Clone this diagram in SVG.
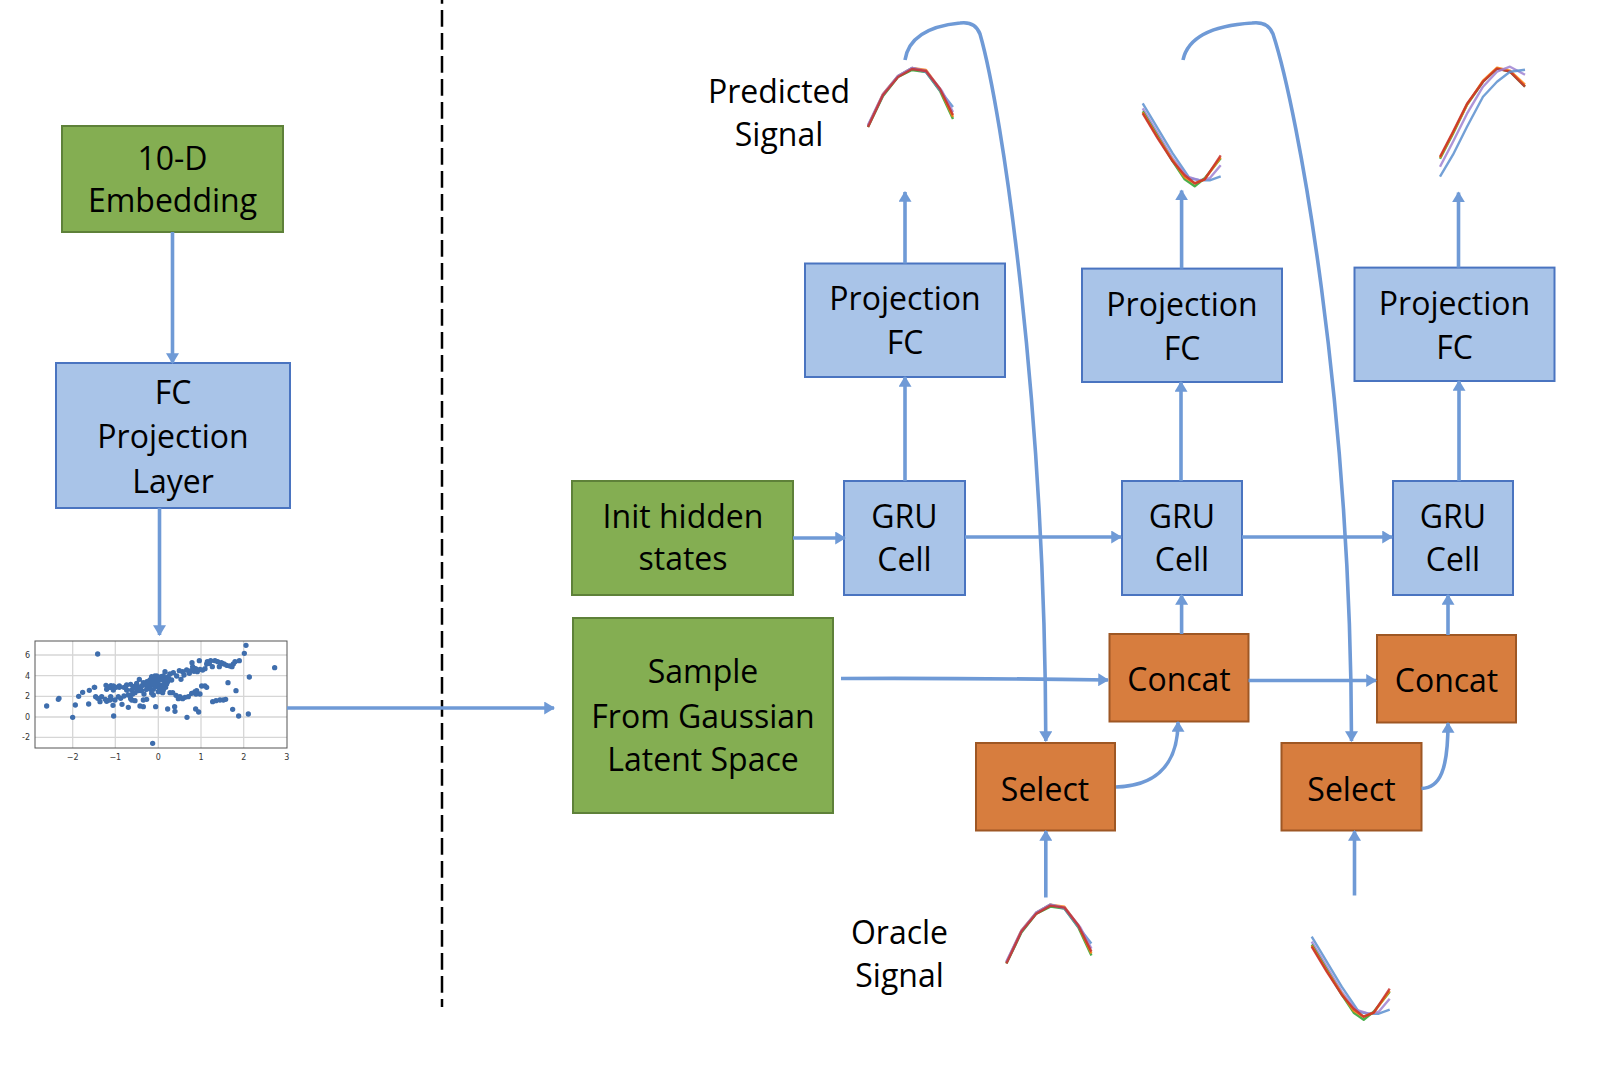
<svg xmlns="http://www.w3.org/2000/svg" width="1614" height="1066" viewBox="0 0 1614 1066">
<style>
.t{font-family:"Open Sans","Noto Sans","Liberation Sans",sans-serif;font-size:32px;fill:#000;text-anchor:middle}
.green{fill:#84AE52;stroke:#5E8139;stroke-width:2}
.blue{fill:#A9C4E8;stroke:#4A74C0;stroke-width:2}
.orange{fill:#D77D3E;stroke:#9E5724;stroke-width:2}
.c{fill:none;stroke:#6F9AD6;stroke-width:3.6;marker-end:url(#ah)}
.w{fill:none;stroke-width:2.4;stroke-linejoin:round;opacity:0.85}
.tk{font-family:"DejaVu Sans","Liberation Sans",sans-serif;font-size:8px;fill:#333}
</style>
<defs>
<marker id="ah" viewBox="0 0 10 12" refX="9" refY="6" markerWidth="11" markerHeight="13" markerUnits="userSpaceOnUse" orient="auto">
<path d="M0,0 L10,6 L0,12 z" fill="#6F9AD6"/>
</marker>
<g id="waveA">
<polyline class="w" stroke="#2ca02c" points="0,0 15,-31 30,-50 44,-57 58,-55 72,-36 85,-8"/>
<polyline class="w" stroke="#ff7f0e" points="0,-1 15,-33 30,-51 44,-59 58,-57 72,-38 85,-10"/>
<polyline class="w" stroke="#5b8fcf" points="0,-1 15,-32 30,-51 44,-59 58,-55 74,-34 85,-20"/>
<polyline class="w" stroke="#9f82d2" points="0,-2 15,-33 30,-51 44,-59 58,-56 74,-36 85,-15"/>
<polyline class="w" stroke="#c8302c" points="0,0 15,-32 30,-50 44,-58 58,-56 72,-38 85,-12"/>
</g>
<g id="waveB">
<polyline class="w" stroke="#5b8fcf" points="0,0 15,25 30,50 47,75 57,77 67,77 78,73"/>
<polyline class="w" stroke="#9f82d2" points="0,5 15,30 30,55 44,73 57,77 67,75 78,62"/>
<polyline class="w" stroke="#2ca02c" points="0,8 15,33 30,58 42,76 52,83 62,75 78,55"/>
<polyline class="w" stroke="#ff7f0e" points="0,9 15,34 30,57 42,74 52,80 62,76 78,54"/>
<polyline class="w" stroke="#c8302c" points="0,10 15,35 30,58 42,72 52,80 62,76 78,52"/>
</g>
</defs>
<rect width="1614" height="1066" fill="#fff"/>

<line x1="442" y1="-13" x2="442" y2="1007" stroke="#000" stroke-width="2.5" stroke-dasharray="16.7 6.3"/>

<g id="embedding">
<rect class="green" x="62" y="126" width="221" height="106"/>
<text class="t" x="172.5" y="170">10-D</text>
<text class="t" x="172.5" y="212">Embedding</text>
</g>
<g id="fc-projection-layer">
<rect class="blue" x="56" y="363" width="234" height="145"/>
<text class="t" x="173" y="404">FC</text>
<text class="t" x="173" y="448">Projection</text>
<text class="t" x="173" y="493">Layer</text>
</g>

<g id="scatter">
<g stroke="#d6d6d6" stroke-width="1.3">
<line x1="72.7" y1="641" x2="72.7" y2="748"/>
<line x1="115.3" y1="641" x2="115.3" y2="748"/>
<line x1="158.3" y1="641" x2="158.3" y2="748"/>
<line x1="201" y1="641" x2="201" y2="748"/>
<line x1="243.7" y1="641" x2="243.7" y2="748"/>
<line x1="35" y1="655" x2="287" y2="655"/>
<line x1="35" y1="675.7" x2="287" y2="675.7"/>
<line x1="35" y1="696.3" x2="287" y2="696.3"/>
<line x1="35" y1="717" x2="287" y2="717"/>
<line x1="35" y1="737.3" x2="287" y2="737.3"/>
</g>
<rect x="35" y="641" width="252" height="107" fill="none" stroke="#555" stroke-width="1"/>
<g transform="translate(0,600) scale(0.33333)">
<path fill="none" stroke="#3F6EAD" stroke-width="16" stroke-linecap="round" d="M293 162h0M140 318h0M175 298h0M177 295h0M218 352h0M226 315h0M236 289h0M248 277h0M268 271h0M284 262h0M266 312h0M341 348h0M458 430h0M738 136h0M733 160h0M824 203h0M748 231h0M684 248h0M708 272h0M698 328h0M716 348h0M745 342h0M561 352h0M596 336h0M587 327h0M524 320h0M525 334h0M503 327h0M467 320h0M430 320h0M420 318h0M385 322h0M366 313h0M339 316h0M320 304h0M300 305h0M293 295h0M287 290h0M305 290h0M316 298h0M330 300h0M332 290h0M283 262h0M318 256h0M333 257h0M320 268h0M340 270h0M358 258h0M372 262h0M380 255h0M392 253h0M400 260h0M395 270h0M410 250h0M418 238h0M420 262h0M430 248h0M436 255h0M441 245h0M450 240h0M455 230h0M460 234h0M465 228h0M470 236h0M477 240h0M483 230h0M488 240h0M490 228h0M495 215h0M500 238h0M505 230h0M510 222h0M515 240h0M520 218h0M530 228h0M538 212h0M543 238h0M548 215h0M552 225h0M560 210h0M568 220h0M573 212h0M578 200h0M585 210h0M592 215h0M598 182h0M600 208h0M608 210h0M615 206h0M622 185h0M632 182h0M637 200h0M645 182h0M653 185h0M664 188h0M672 192h0M680 196h0M690 198h0M700 192h0M705 185h0M718 182h0M576 188h0M587 206h0M582 214h0M620 192h0M628 190h0M658 200h0M696 200h0M345 300h0M355 290h0M362 295h0M372 288h0M385 285h0M392 296h0M405 278h0M414 272h0M425 272h0M432 282h0M440 268h0M448 262h0M455 272h0M460 268h0M470 260h0M478 255h0M483 265h0M490 270h0M497 262h0M500 252h0M510 278h0M518 278h0M528 286h0M535 296h0M540 290h0M548 296h0M555 292h0M565 290h0M575 280h0M585 275h0M590 272h0M605 258h0M615 258h0M620 262h0M430 300h0M440 298h0M405 302h0M395 300h0M455 280h0M460 285h0M638 305h0M648 302h0M660 300h0M670 300h0M677 298h0M600 282h0M588 282h0M450 250h0M456 243h0M462 255h0M467 248h0M473 246h0M478 263h0M485 258h0M493 250h0M503 245h0M482 268h0M475 275h0M488 278h0M492 260h0M358 262h0M348 262h0M330 262h0M340 258h0M470 228h0M462 240h0M445 255h0M425 258h0M410 265h0M398 282h0M380 270h0"/>
</g>
<text class="tk" x="30" y="657.8" text-anchor="end">6</text>
<text class="tk" x="30" y="678.5" text-anchor="end">4</text>
<text class="tk" x="30" y="699.1" text-anchor="end">2</text>
<text class="tk" x="30" y="719.8" text-anchor="end">0</text>
<text class="tk" x="30" y="740.1" text-anchor="end">-2</text>
<text class="tk" x="72.7" y="760" text-anchor="middle">−2</text>
<text class="tk" x="115.3" y="760" text-anchor="middle">−1</text>
<text class="tk" x="158.3" y="760" text-anchor="middle">0</text>
<text class="tk" x="201" y="760" text-anchor="middle">1</text>
<text class="tk" x="243.7" y="760" text-anchor="middle">2</text>
<text class="tk" x="286.7" y="760" text-anchor="middle">3</text>
</g>

<g id="init-hidden-states">
<rect class="green" x="572" y="481" width="221" height="114"/>
<text class="t" x="683" y="528">Init hidden</text>
<text class="t" x="683" y="570">states</text>
</g>
<g id="sample-gaussian">
<rect class="green" x="573" y="618" width="260" height="195"/>
<text class="t" x="703" y="683">Sample</text>
<text class="t" x="703" y="728">From Gaussian</text>
<text class="t" x="703" y="771">Latent Space</text>
</g>

<g id="gru1">
<rect class="blue" x="844" y="481" width="121" height="114"/>
<text class="t" x="904.5" y="528">GRU</text>
<text class="t" x="904.5" y="571">Cell</text>
</g>
<g id="gru2">
<rect class="blue" x="1122" y="481" width="120" height="114"/>
<text class="t" x="1182" y="528">GRU</text>
<text class="t" x="1182" y="571">Cell</text>
</g>
<g id="gru3">
<rect class="blue" x="1393" y="481" width="120" height="114"/>
<text class="t" x="1453" y="528">GRU</text>
<text class="t" x="1453" y="571">Cell</text>
</g>

<g id="proj1">
<rect class="blue" x="805" y="263.5" width="200" height="113.5"/>
<text class="t" x="905" y="310">Projection</text>
<text class="t" x="905" y="354">FC</text>
</g>
<g id="proj2">
<rect class="blue" x="1082" y="268.6" width="200" height="113.4"/>
<text class="t" x="1182" y="315.5">Projection</text>
<text class="t" x="1182" y="359.5">FC</text>
</g>
<g id="proj3">
<rect class="blue" x="1354.5" y="267.6" width="200" height="113.4"/>
<text class="t" x="1454.5" y="314.5">Projection</text>
<text class="t" x="1454.5" y="358.5">FC</text>
</g>

<g id="concat1">
<rect class="orange" x="1109.5" y="634" width="139" height="87.5"/>
<text class="t" x="1179" y="691">Concat</text>
</g>
<g id="concat2">
<rect class="orange" x="1377" y="635" width="139" height="87.5"/>
<text class="t" x="1446.5" y="691.5">Concat</text>
</g>
<g id="select1">
<rect class="orange" x="976" y="743" width="139" height="87.5"/>
<text class="t" x="1045" y="800.5">Select</text>
</g>
<g id="select2">
<rect class="orange" x="1281.5" y="743" width="140" height="87.5"/>
<text class="t" x="1351.5" y="800.5">Select</text>
</g>

<g id="predicted-signal">
<text class="t" x="779" y="102.5">Predicted</text>
<text class="t" x="779" y="146">Signal</text>
<use href="#waveA" transform="translate(868,127)"/>
<use href="#waveB" transform="translate(1142.7,103.3)"/>
<g transform="translate(1440,176.7)">
<polyline class="w" stroke="#2ca02c" points="0,-18 13,-43 27,-72 43,-95 57,-108 70,-105 85,-90"/>
<polyline class="w" stroke="#ff7f0e" points="0,-19 13,-44 27,-72 43,-96 57,-109 70,-106 85,-92"/>
<polyline class="w" stroke="#c8302c" points="0,-20 13,-45 27,-73 43,-95 57,-108 70,-105 85,-90"/>
<polyline class="w" stroke="#9f82d2" points="0,-10 13,-35 27,-63 43,-90 57,-105 70,-110 85,-102"/>
<polyline class="w" stroke="#5b8fcf" points="0,0 13,-22 27,-50 43,-80 57,-95 70,-105 85,-107"/>
</g>
</g>
<g id="oracle-signal">
<text class="t" x="899.5" y="943.5">Oracle</text>
<text class="t" x="899.5" y="987">Signal</text>
<use href="#waveA" transform="translate(1006.4,963.6)"/>
<use href="#waveB" transform="translate(1311.7,936.7)"/>
</g>

<g id="connectors">
<path class="c" d="M172.5,232 V363"/>
<path class="c" d="M159.5,508 V635"/>
<path class="c" d="M287,708 H554"/>
<path class="c" d="M793,538 H845"/>
<path class="c" d="M965,537 H1121"/>
<path class="c" d="M1242,537 H1392"/>
<path class="c" d="M905,481 V377"/>
<path class="c" d="M1181,481 V382"/>
<path class="c" d="M1459,481 V381"/>
<path class="c" d="M905,263.5 V192"/>
<path class="c" d="M1181.6,268.6 V190.5"/>
<path class="c" d="M1458.5,267.6 V192.5"/>
<path class="c" d="M841,678.5 Q975,678 1108,680"/>
<path class="c" d="M1181.6,634 V595"/>
<path class="c" d="M1448,635 V595"/>
<path class="c" d="M1248.5,680.5 H1376"/>
<path class="c" d="M1116,787 C1150,786 1178,770 1178,722"/>
<path class="c" d="M1421.5,788.5 C1440,788 1448,770 1448,723"/>
<path class="c" d="M1045.8,897.5 V831"/>
<path class="c" d="M1354.5,895.5 V831"/>
<path class="c" d="M905,60 Q910,28 960,23 Q975,21 980,34 C1002,110 1045,400 1045.8,741"/>
<path class="c" d="M1183,60 Q1190,27 1252,23 Q1268,21 1273,34 C1298,110 1351,400 1351.5,741"/>
</g>
</svg>
